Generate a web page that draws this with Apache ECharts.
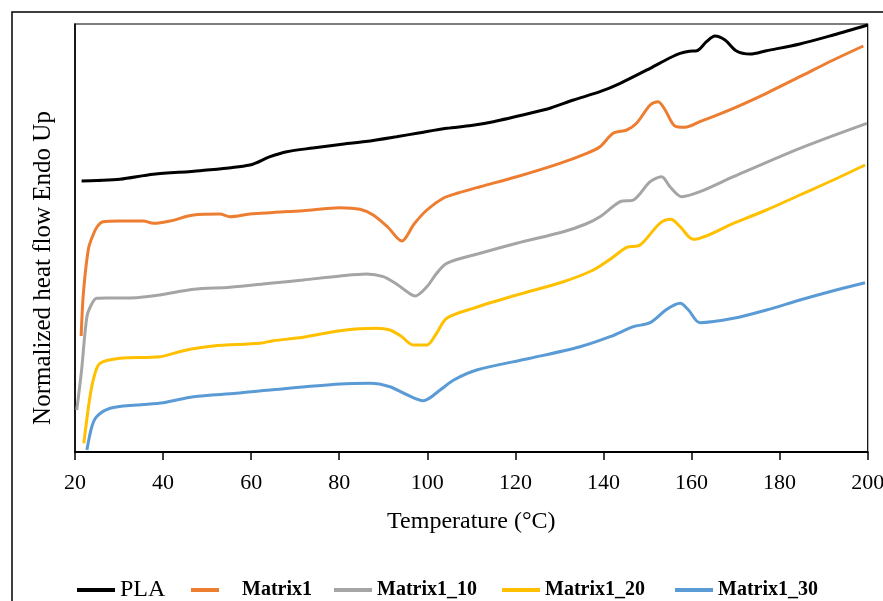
<!DOCTYPE html>
<html>
<head>
<meta charset="utf-8">
<script src="https://cdn.jsdelivr.net/npm/echarts@6/dist/echarts.min.js"></script>
<style>
  html, body { margin: 0; padding: 0; background: #fff; }
  #chart { width: 883px; height: 601px; }
</style>
</head>
<body>
<div id="chart"></div>
<script>
// x ticks
var xTicks = [20, 40, 60, 80, 100, 120, 140, 160, 180, 200];

// PLA
var plaT = [21.5, 25, 30.2, 37.8, 48.4, 59.7, 64.3, 68.1, 74, 80.2, 86, 93, 98, 104.4, 110, 115, 123.3, 128, 133.2, 139.2, 143.8, 150.6, 155, 157.4, 159.5, 161.2, 163.4, 165.3, 167.6, 170.2, 173.3, 177, 184.6, 192.2, 200];
var plaY = [271, 271.5, 272.7, 277.7, 281.3, 287, 295.3, 300.3, 304, 307.5, 310.5, 315.3, 319, 323.7, 326.5, 330.3, 338.7, 344, 352, 360.3, 368.7, 383.7, 394, 398.7, 400.8, 401.3, 410.3, 416, 412, 401, 398, 401.3, 408, 417, 427];

// Matrix1
var m1T = [21.4, 21.9, 23, 23.8, 25, 26.4, 30, 35.5, 37.8, 41.6, 46.9, 52.9, 55.2, 59.7, 65, 71.8, 80.2, 84.7, 87.7, 91, 94.2, 97, 99.9, 103.6, 107, 112, 120.3, 130.1, 136.2, 139.2, 142.2, 145.3, 147.5, 150.6, 152.4, 154, 156.2, 158.5, 161.9, 169.5, 177, 184.6, 192.2, 199];
var m1Y = [116, 158.7, 202, 213.7, 225, 230.3, 231, 231, 228.7, 231, 237, 238, 235.3, 238, 239.5, 241.3, 244.3, 242.7, 237, 225, 211, 228, 242, 253.7, 259, 265.3, 275.3, 288.7, 298.7, 305.3, 318.7, 322, 328.7, 347, 350.3, 342, 326, 324.7, 330.3, 343.7, 358.7, 375.3, 392, 406];

// Matrix1_10
var m10T = [20.4, 21.5, 22.7, 23.8, 24.9, 28, 34, 39.3, 46.9, 55.2, 64.3, 71.8, 80.2, 86.2, 90, 93, 95.5, 97.2, 99.9, 102, 104.4, 112, 120.3, 130.9, 136, 139.2, 143.8, 146.8, 150.6, 153.2, 155.1, 157.8, 161.9, 169.5, 184.6, 199.8];
var m10Y = [42, 82, 135.3, 148, 153.7, 154, 154.3, 157, 162.7, 164.7, 168.7, 172, 176, 178, 175.3, 168, 160, 156, 165.3, 178, 188.7, 198.7, 208.7, 220.3, 228, 235.3, 250.3, 252, 270.3, 275.3, 265.3, 255.3, 260.3, 275.3, 303.7, 328.7];

// Matrix1_20
var m20T = [22, 23.4, 24.5, 25.7, 30.2, 39.3, 44.6, 51.4, 62, 65, 71.8, 80.2, 88.5, 91.5, 94, 96.8, 99.9, 102, 104.4, 110.4, 120.3, 130.9, 137.7, 141.5, 145.3, 148.3, 152.8, 155.3, 157.4, 160.4, 169.5, 177, 184.6, 192.2, 199.4];
var m20Y = [8.7, 55.3, 78, 88.7, 93.7, 95.3, 101.3, 106, 108.7, 111.3, 114.7, 121.3, 123.7, 122, 116, 107, 107, 118, 133.7, 143.7, 157, 170.3, 182, 192.7, 204.7, 207, 228.7, 232.7, 225.3, 212.7, 228.7, 242, 257, 272, 287];

// Matrix1_30
var m30T = [22.7, 23.8, 24.9, 28, 34, 40.1, 46.9, 56.7, 64.3, 80.2, 87, 91.5, 95, 99.1, 102.9, 106, 111.2, 123.3, 134.7, 141.5, 146.8, 150.6, 154.4, 157.4, 159.3, 161.9, 169.5, 177, 184.6, 192.2, 199.4];
var m30Y = [2, 25, 35.3, 43.7, 47, 49.3, 55.3, 58.7, 62, 68, 68.7, 65.3, 58, 51.3, 62, 72, 82, 93.7, 105.3, 115.3, 125.3, 129.3, 142.7, 148.7, 142, 129.3, 133.7, 142, 152, 161.3, 169.3];

var names = ['PLA', 'Matrix1', 'Matrix1_10', 'Matrix1_20', 'Matrix1_30'];
var colors = ['#000000', '#ED7D31', '#A5A5A5', '#FFC000', '#5B9BD5'];

var serif = 'Liberation Serif';

function zip(xs, ys) {
	var out = [];
	for (var i = 0; i < xs.length; i++) {
		out.push([xs[i], ys[i]]);
	}
	return out;
}

var seriesData = [zip(plaT, plaY), zip(m1T, m1Y), zip(m10T, m10Y), zip(m20T, m20Y), zip(m30T, m30Y)];

// legend positions, one legend per entry
var legendLeft = [72, 186, 329, 497, 670];
var legendList = [];
for (var i = 0; i < names.length; i++) {
	var isPla = i === 0;
	legendList.push({
		left: legendLeft[i],
		top: isPla ? 573 : 575,
		icon: 'rect',
		itemWidth: i === 1 ? 28 : 38,
		itemHeight: 4,
		selectedMode: false,
		data: [{
			name: names[i],
			textStyle: {
				fontFamily: serif,
				fontSize: isPla ? 24 : 20,
				fontWeight: isPla ? 'normal' : 'bold',
				color: '#000',
				padding: i === 1 ? [0, 0, 0, 18] : [0, 0, 0, 0]
			}
		}]
	});
}

var myChart = echarts.init(document.getElementById('chart'), null, { renderer: 'canvas' });

var option = {
	animation: false,
	backgroundColor: '#fff',
	color: colors,
	grid: {
		left: 75,
		top: 24,
		right: 15.3,
		bottom: 149,
		show: true,
		borderColor: '#000',
		borderWidth: 1.2,
		containLabel: false,
		outerBoundsMode: 'none'
	},
	legend: legendList,
	xAxis: {
		type: 'value',
		min: xTicks[0],
		max: xTicks[xTicks.length - 1],
		interval: 20,
		name: 'Temperature (°C)',
		nameLocation: 'middle',
		nameGap: 58,
		nameTextStyle: { fontFamily: serif, fontSize: 24, color: '#000' },
		axisLine: { show: true, lineStyle: { color: '#000', width: 2 } },
		axisTick: { show: true, inside: false, length: 8, lineStyle: { color: '#000', width: 1.5 } },
		axisLabel: { fontFamily: serif, fontSize: 22, color: '#000', margin: 20 },
		splitLine: { show: false }
	},
	yAxis: {
		type: 'value',
		min: 0,
		max: 428,
		axisLine: { show: true, lineStyle: { color: '#000', width: 1.5 } },
		axisTick: { show: false },
		axisLabel: { show: false },
		splitLine: { show: false }
	},
	graphic: [
		{
			type: 'rect',
			silent: true,
			z: -10,
			shape: { x: 12, y: 12, width: 920, height: 640 },
			style: { fill: 'none', stroke: '#000', lineWidth: 1.5 }
		},
		{
			type: 'text',
			silent: true,
			x: 43,
			y: 268,
			rotation: Math.PI / 2,
			style: {
				text: 'Normalized heat flow Endo Up',
				fontFamily: serif,
				fontSize: 25,
				fill: '#000',
				align: 'center',
				verticalAlign: 'middle'
			}
		}
	],
	series: []
};

for (var j = 0; j < names.length; j++) {
	option.series.push({
		name: names[j],
		type: 'line',
		data: seriesData[j],
		symbol: 'none',
		smooth: 0.3,
		lineStyle: { width: 3, color: colors[j] },
		itemStyle: { color: colors[j] }
	});
}

myChart.setOption(option);
</script>
</body>
</html>
